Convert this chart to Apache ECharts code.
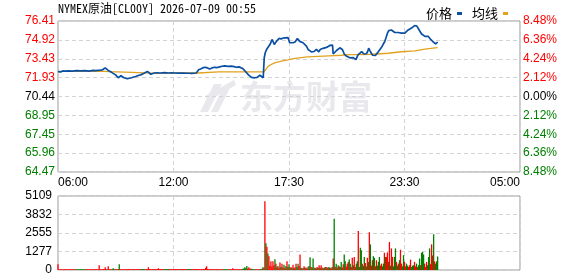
<!DOCTYPE html>
<html>
<head>
<meta charset="utf-8">
<script src="https://cdn.jsdelivr.net/npm/echarts@6/dist/echarts.min.js"></script>
<style>
  html, body { margin: 0; padding: 0; background: #fff; }
  #chart { width: 578px; height: 276px; }
</style>
</head>
<body>
<div id="chart"></div>
<script>
// header + tick labels
const title = 'NYMEX原油[CL00Y] 2026-07-09 00:55'
const timeLabels = ['06:00', '12:00', '17:30', '23:30', '05:00']
const priceTicks = ['64.47', '65.96', '67.45', '68.95', '70.44', '71.93', '73.43', '74.92', '76.41']
const pctTicks = ['8.48%', '6.36%', '4.24%', '2.12%', '0.00%', '2.12%', '4.24%', '6.36%', '8.48%']
const volTicks = ['0', '1277', '2555', '3832', '5109']

// price line: minutes after 06:00 -> price
const priceTimes = [
  0, 4, 8, 14, 22, 30, 43, 55, 68, 80, 93, 105, 113, 125, 133, 138, 141, 145, 150, 155,
  160, 166, 172, 176, 180, 184, 188, 192, 197, 202, 207, 213, 220, 226, 232, 240, 247, 252, 257, 262,
  267, 272, 277, 282, 287, 295, 305, 319, 330, 340, 349, 360, 375, 389, 400, 413, 417, 420, 426, 432,
  438, 445, 453, 460, 468, 476, 483, 490, 498, 508, 518, 526, 533, 540, 546, 552, 556, 560, 564, 569,
  573, 578, 581, 588, 595, 603, 608, 613, 615, 616, 619, 623, 628, 633, 640, 643, 646, 649, 653, 660,
  666, 672, 678, 683, 687, 692, 697, 702, 708, 715, 719, 722, 727, 732, 737, 742, 747, 752, 757, 761,
  765, 769, 772, 776, 779, 783, 787, 792, 797, 802, 807, 812, 817, 820, 822, 827, 832, 837, 842, 846,
  849, 852, 855, 858, 862, 867, 872, 877, 882, 887, 890, 893, 896, 901, 907, 911, 914, 918, 921, 925,
  928, 932, 936, 940, 944, 948, 951, 956, 961, 968, 972, 976, 980, 984, 988, 991, 996, 1001, 1006, 1011,
  1016, 1021, 1026, 1031, 1036, 1041, 1046, 1051, 1056, 1061, 1065, 1068, 1072, 1076, 1081, 1086, 1091, 1096, 1101, 1106,
  1110, 1114, 1118, 1121, 1125, 1128, 1131, 1134
]
const prices = [
  72.40, 72.33, 72.38, 72.46, 72.44, 72.47, 72.45, 72.48, 72.46, 72.49, 72.44, 72.50, 72.48, 72.52, 72.55, 72.62, 72.70, 72.60, 72.50, 72.42,
  72.35, 72.25, 72.15, 72.10, 71.92, 72.00, 72.08, 72.00, 71.92, 71.88, 71.85, 71.88, 71.92, 71.98, 72.02, 72.10, 72.15, 72.22, 72.28, 72.35,
  72.42, 72.30, 72.20, 72.26, 72.30, 72.32, 72.30, 72.33, 72.30, 72.31, 72.30, 72.29, 72.30, 72.28, 72.27, 72.30, 72.42, 72.55, 72.62, 72.70,
  72.75, 72.72, 72.62, 72.70, 72.75, 72.73, 72.78, 72.83, 72.86, 72.82, 72.84, 72.80, 72.75, 72.78, 72.72, 72.65, 72.55, 72.42, 72.30, 72.15,
  72.05, 71.95, 71.92, 71.92, 71.95, 72.12, 71.98, 71.92, 72.00, 73.50, 73.90, 74.16, 74.20, 74.55, 74.95, 74.75, 74.55, 74.70, 74.82, 75.03,
  75.00, 75.05, 75.08, 75.22, 75.10, 74.69, 74.62, 74.69, 74.75, 75.03, 74.95, 74.80, 74.78, 74.69, 74.60, 74.42, 74.16, 74.10, 73.97, 74.05,
  74.00, 74.12, 74.16, 74.05, 73.97, 74.15, 74.29, 74.25, 74.35, 74.32, 74.42, 74.48, 74.55, 74.50, 73.80, 73.90, 74.08, 74.15, 74.29, 74.20,
  74.16, 74.00, 73.80, 73.70, 73.62, 73.55, 73.50, 73.58, 73.52, 73.42, 73.35, 73.26, 73.73, 73.85, 73.99, 73.88, 73.80, 73.85, 73.82, 74.00,
  74.26, 74.05, 73.86, 73.70, 73.60, 73.68, 73.73, 73.95, 74.13, 74.40, 74.55, 74.79, 75.10, 75.45, 75.65, 75.80, 75.70, 75.59, 75.50, 75.38,
  75.50, 75.59, 75.45, 75.33, 75.45, 75.55, 75.70, 75.80, 75.85, 75.91, 76.05, 76.12, 76.00, 75.85, 75.60, 75.38, 75.25, 75.19, 75.22, 75.19,
  75.05, 74.93, 74.85, 74.75, 74.65, 74.60, 74.70, 74.75
]

// average line
const avgTimes = [0, 140, 150, 200, 205, 300, 340, 420, 480, 614, 616, 620, 627, 635, 647, 667, 687, 707, 727, 745,
  777, 810, 847, 872, 900, 940, 986, 1026, 1066, 1096, 1120, 1134]
const avgPrices = [72.43, 72.43, 72.40, 72.36, 72.27, 72.27, 72.30, 72.30, 72.38, 72.38, 72.38, 72.55, 72.80, 72.95, 73.10, 73.23, 73.33, 73.45, 73.52, 73.58,
  73.62, 73.66, 73.70, 73.75, 73.76, 73.78, 73.86, 73.98, 74.05, 74.18, 74.26, 74.30]

// volume per 3-minute slot from 06:00, r = up (red), g = down (green)
const volumes = [
  400, 60, 50, 60, 55, 50, 60, 70, 55, 50, 60, 55, 50, 60, 55, 65, 60, 50, 55, 60,
  55, 60, 50, 65, 55, 60, 50, 55, 60, 65, 55, 50, 60, 55, 50, 60, 55, 65, 60, 50,
  60, 330, 55, 60, 50, 65, 55, 190, 60, 55, 260, 60, 50, 55, 60, 120, 55, 60, 50, 55,
  65, 400, 60, 55, 50, 60, 55, 50, 60, 55, 65, 60, 50, 55, 60, 55, 50, 60, 55, 60,
  55, 60, 50, 55, 60, 65, 55, 50, 60, 55, 190, 60, 55, 50, 60, 55, 60, 50, 55, 60,
  120, 55, 60, 50, 55, 60, 55, 50, 60, 55, 60, 50, 55, 60, 55, 50, 60, 55, 60, 50,
  55, 60, 50, 55, 60, 55, 50, 60, 55, 60, 50, 55, 60, 55, 50, 60, 55, 60, 50, 55,
  60, 55, 50, 60, 55, 60, 55, 150, 260, 55, 60, 50, 55, 60, 55, 50, 60, 55, 60, 50,
  55, 60, 50, 55, 60, 55, 50, 60, 55, 60, 50, 55, 60, 55, 120, 60, 55, 50, 60, 55,
  60, 55, 50, 60, 90, 100, 190, 120, 280, 100, 190, 80, 100, 70, 60, 55, 60, 50, 55, 60,
  55, 60, 70, 90, 190, 150, 4750, 1840, 1610, 1140, 955, 300, 600, 250, 600, 330, 745, 440, 200, 280,
  150, 510, 200, 440, 180, 370, 150, 280, 600, 200, 400, 150, 210, 120, 370, 150, 180, 440, 200, 440,
  280, 1070, 150, 120, 120, 260, 150, 180, 100, 230, 280, 885, 200, 180, 790, 160, 150, 120, 210, 150,
  330, 150, 330, 180, 120, 150, 200, 210, 150, 190, 190, 150, 120, 200, 790, 3540, 200, 440, 180, 330,
  260, 200, 560, 180, 400, 1070, 600, 250, 440, 560, 720, 440, 200, 840, 330, 900, 200, 440, 600, 2700,
  200, 1540, 1370, 440, 300, 900, 490, 250, 840, 560, 2610, 1770, 300, 675, 955, 840, 250, 675, 300, 560,
  900, 300, 440, 250, 440, 1190, 900, 900, 1210, 560, 1930, 300, 1490, 900, 250, 900, 1490, 560, 300, 440,
  675, 1400, 440, 250, 1025, 560, 250, 440, 300, 210, 330, 720, 200, 300, 330, 560, 250, 440, 200, 330,
  790, 330, 1190, 1250, 1070, 440, 210, 560, 330, 900, 1490, 400, 1770, 1000, 2470, 600, 440, 600, 930
]
const volDirs =
  'rrrrrrrrrrrrrrrrrrgg' + 'ggggggggrrrrrrrrrrrr' + 'rrrrrrrrrgrrrrgggrrr' + 'rgrrrrrrrrrrrrrrrrrr' +
  'rrrggggrrrrrrrrrrrrr' + 'rrrrrrgggggrrrrrrrrr' + 'rrrrrrrrrggggrrrrrrr' + 'rrrrrrrrrrrrrrrrrrrr' +
  'rrrrrgggggrrrrrrrrrr' + 'rrrrggggg' + 'rrrrggggrrr' + 'rrgggrrgrgrrrrrrgrrg' + 'rrgrrgrgrggrrgrgrrgg' +
  'rrgrgrrgrrggrggrgrrg' + 'rgrrgrgrrggrrgrgrgrg' + 'rggrrggrrrggrrgrrggr' + 'gggrggrgrgrgrrggrrgg' +
  'grrggrgrrgrgrrgggrgr' + 'grrggrrggrrrgggrrgrg' + 'grgggrrrgggrrrgrggg'

const PRICE_MIN = 64.47
const PRICE_MAX = 76.41
const VOL_MAX = 5109
const FULL_DAY = 1380
const SLOT = 3

const RED = '#ff0000'
const GREEN = '#008000'
const MARK = '#e9e9ed'
const GRID_LINE = { show: true, lineStyle: { color: '#d3d3d3', type: [4, 3], width: 1 } }
const LABEL_FONT = { fontFamily: 'Liberation Sans, Arial, sans-serif', fontSize: 12 }

const signColor = (v) => (v > 0 ? RED : v < 0 ? GREEN : '#000')

const chart = echarts.init(document.getElementById('chart'), null, { renderer: 'canvas' })

const xCommon = {
  type: 'value',
  min: 0,
  max: FULL_DAY,
  interval: FULL_DAY / 4,
  axisLine: { show: false },
  axisTick: { show: false },
  splitLine: GRID_LINE,
}

chart.setOption({
  animation: false,
  backgroundColor: '#fff',
  legend: {
    right: 65,
    top: 2,
    align: 'right',
    itemGap: 10,
    itemWidth: 5,
    itemHeight: 3,
    icon: 'rect',
    textStyle: { fontFamily: 'Noto Sans CJK SC', fontSize: 13, color: '#000' },
    data: ['价格', '均线'],
  },
  graphic: [
    {
      type: 'text',
      left: 58,
      top: 2,
      style: { text: title, fontFamily: '"Noto Sans Mono CJK SC", "Liberation Mono", monospace', fontSize: 12, fill: '#000' },
    },
    // watermark: logo swoosh + brand name
    {
      type: 'group',
      z: -10,
      children: [
        { type: 'polygon', shape: { points: [[200, 112], [214, 84], [222, 84], [208, 112]] }, style: { fill: MARK } },
        { type: 'polygon', shape: { points: [[211, 112], [224, 86], [231, 86], [218, 112]] }, style: { fill: MARK } },
        { type: 'polygon', shape: { points: [[205, 96], [234, 80], [236, 85], [208, 101]] }, style: { fill: MARK } },
        {
          type: 'text',
          left: 240,
          top: 80,
          style: { text: '东方财富', fontFamily: 'Noto Sans CJK SC', fontWeight: 'bold', fontSize: 33, fill: MARK },
        },
      ],
    },
  ],
  grid: [
    { left: 58, width: 462, top: 21, height: 151, show: true, borderColor: '#999', borderWidth: 1 },
    { left: 58, width: 462, top: 196, height: 74, show: true, borderColor: '#999', borderWidth: 1 },
  ],
  xAxis: [
    {
      ...xCommon,
      gridIndex: 0,
      axisLabel: {
        ...LABEL_FONT,
        color: '#000',
        margin: 5,
        alignMinLabel: 'left',
        alignMaxLabel: 'right',
        formatter: (v) => timeLabels[Math.round(v / (FULL_DAY / 4))],
      },
    },
    { ...xCommon, gridIndex: 1, axisLabel: { show: false } },
  ],
  yAxis: [
    // price scale the line is drawn on
    { type: 'value', gridIndex: 0, min: PRICE_MIN, max: PRICE_MAX, show: false, splitLine: { show: false } },
    // left tick labels (prices)
    {
      type: 'value', gridIndex: 0, position: 'left', min: -4, max: 4, interval: 1,
      axisLine: { show: false }, axisTick: { show: false }, splitLine: GRID_LINE,
      axisLabel: { ...LABEL_FONT, margin: 3, color: (v) => signColor(Number(v)), formatter: (v) => priceTicks[v + 4] },
    },
    // right tick labels (percent)
    {
      type: 'value', gridIndex: 0, position: 'right', min: -4, max: 4, interval: 1,
      axisLine: { show: false }, axisTick: { show: false }, splitLine: { show: false },
      axisLabel: { ...LABEL_FONT, margin: 3, color: (v) => signColor(Number(v)), formatter: (v) => pctTicks[4 - v] },
    },
    // volume
    {
      type: 'value', gridIndex: 1, min: 0, max: VOL_MAX, interval: VOL_MAX / 4,
      axisLine: { show: false }, axisTick: { show: false }, splitLine: GRID_LINE,
      axisLabel: { ...LABEL_FONT, margin: 6, color: '#000', formatter: (v) => volTicks[Math.round(v / (VOL_MAX / 4))] },
    },
  ],
  series: [
    {
      name: '均线',
      type: 'line',
      xAxisIndex: 0,
      yAxisIndex: 0,
      showSymbol: false,
      color: '#e0a21f',
      lineStyle: { width: 1.3, color: '#e0a21f' },
      data: avgTimes.map((t, i) => [t, avgPrices[i]]),
      z: 2,
    },
    {
      name: '价格',
      type: 'line',
      xAxisIndex: 0,
      yAxisIndex: 0,
      showSymbol: false,
      color: '#0b4fa3',
      lineStyle: { width: 1.7, color: '#0b4fa3' },
      data: priceTimes.map((t, i) => [t, prices[i]]),
      z: 3,
    },
    {
      name: '成交量',
      type: 'bar',
      xAxisIndex: 1,
      yAxisIndex: 3,
      barWidth: 1.3,
      data: volumes.map((v, i) => ({
        value: [i * SLOT, v],
        itemStyle: { color: volDirs[i] === 'g' ? GREEN : RED },
      })),
    },
  ],
})
</script>
</body>
</html>
